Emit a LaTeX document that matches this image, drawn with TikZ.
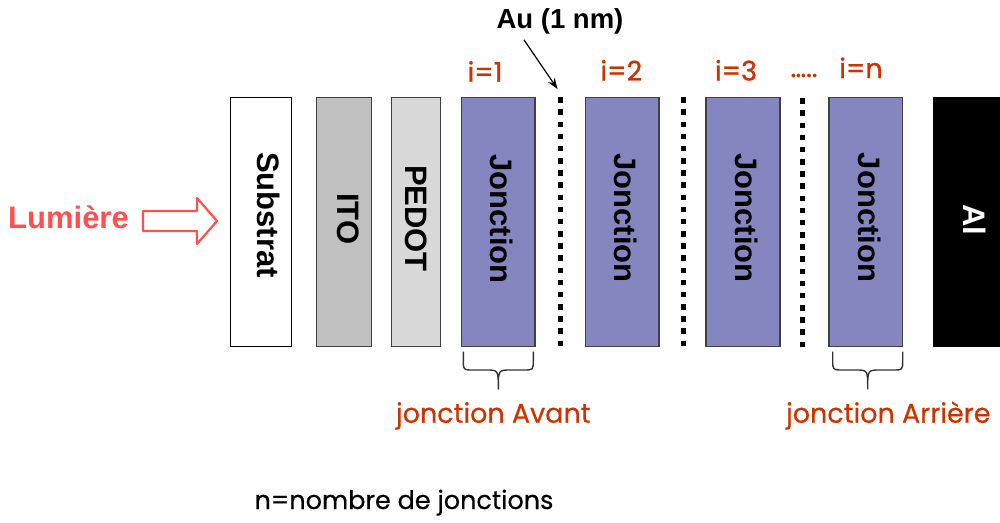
\documentclass[tikz,border=0pt]{standalone}
\usepackage{fontspec}
\setmainfont{Liberation Sans}
\newfontface\comic{Poppins}[FakeBold=0.5]
\newfontface\comicthick{Poppins}[FakeBold=0.9]
\usetikzlibrary{arrows.meta}
\definecolor{layerline}{RGB}{64,64,64}
\definecolor{itogray}{RGB}{192,192,192}
\definecolor{pedotgray}{RGB}{216,216,216}
\definecolor{jonc}{RGB}{133,133,192}
\definecolor{lumred}{RGB}{255,80,80}
\definecolor{labred}{RGB}{204,51,0}
\begin{document}
\begin{tikzpicture}[x=1pt,y=-1pt,
 layer/.style={draw=layerline, line width=1.5pt, inner sep=0pt, minimum height=249.4pt},
 boxtext/.style={rotate=-90, font=\fontsize{31}{31}\selectfont\bfseries, inner sep=0pt},
 ilabel/.style={text=labred, font=\comicthick\fontsize{27}{27}\selectfont, anchor=base, inner sep=0pt},
 jlabel/.style={text=labred, font=\comic\fontsize{27}{27}\selectfont, anchor=base, inner sep=0pt},
 audots/.style={line width=5.5pt, dash pattern=on 5.5pt off 6.67pt},
 bracestyle/.style={draw=black!80, line width=1.4pt, line join=round},
]
\useasboundingbox (0,0) rectangle (1000,522);

% layers
\node[layer, fill=white, draw=black, minimum width=61pt] (sub) at (261.2,222) {};
\node[layer, fill=itogray, minimum width=55pt] (ito) at (344.2,222) {};
\node[layer, fill=pedotgray, minimum width=49pt] (ped) at (416.2,222) {};
\node[layer, fill=jonc, minimum width=73.3pt] (j1) at (498.3,222) {};
\node[layer, fill=jonc, minimum width=73.3pt] (j2) at (622.3,222) {};
\node[layer, fill=jonc, minimum width=74pt] (j3) at (743,222) {};
\node[layer, fill=jonc, minimum width=73.7pt] (jn) at (865.8,222) {};
\node[layer, fill=black, draw=black, minimum width=70pt] (al) at (968.3,222) {};

% layer texts
\node[boxtext] (tsub) at (269,215) {Substrat};
\node[boxtext] (tito) at (348,218.7) {ITO};
\node[boxtext] (tped) at (416.2,218.5) {PEDOT};
\node[boxtext] (tj1) at (501.5,219) {Jonction};
\node[boxtext] (tj2) at (626,218) {Jonction};
\node[boxtext] (tj3) at (747,218) {Jonction};
\node[boxtext] (tjn) at (870,217.5) {Jonction};
\node[boxtext, text=white] (tal) at (975,220) {Al};

% gold layers (dotted)
\draw[audots] (560.7,97.25) -- (560.7,346.5);
\draw[audots] (683.3,97.25) -- (683.3,346.5);
\draw[audots] (802.7,98.25) -- (802.7,346.5);

% light arrow
\node[anchor=base west, text=lumred, font=\fontsize{31}{31}\selectfont\bfseries, inner sep=0pt] (lum) at (8,228.3) {Lumière};
\draw[draw=lumred, fill=white, line width=2.2pt, line join=round]
  (143,211) -- (197,211) -- (197,198) -- (217,221) -- (197,244) -- (197,231) -- (143,231) -- cycle;

% Au label
\node[font=\fontsize{27.5}{27.5}\selectfont\bfseries, anchor=base, inner sep=0pt] (au) at (560,28) {Au (1 nm)};
\coordinate (autip) at (557.5,89);
\draw[line width=1.2pt, -{Stealth[length=11pt,width=8pt]}] ([xshift=-36pt,yshift=-6pt]au.south) -- (autip);

% index labels
\node[ilabel] (i1) at (485,81.7) {i=1};
\node[ilabel] (i2) at (621.3,80.5) {i=2};
\node[ilabel] (i3) at (736,80.5) {i=3};
\node[ilabel] (idots) at (804,77) {…..};
\node[ilabel] (in) at (861,78) {i=n};

% braces
\draw[bracestyle] (463.3,351.7) -- (463.3,360) .. controls (463.3,370) .. (473,370) -- (486,370)
  .. controls (498.3,370) .. (498.3,389) .. controls (498.3,370) .. (510.6,370) -- (523.6,370)
  .. controls (533.3,370) .. (533.3,360) -- (533.3,351.7);
\draw[bracestyle] (832.7,351.7) -- (832.7,360) .. controls (832.7,370) .. (842.4,370) -- (855.4,370)
  .. controls (867.7,370) .. (867.7,389) .. controls (867.7,370) .. (880,370) -- (893,370)
  .. controls (902.7,370) .. (902.7,360) -- (902.7,351.7);

\node[jlabel] (avant) at (493.3,422.7) {jonction Avant};
\node[jlabel] (arriere) at (888.3,422.7) {jonction Arrière};
\node[jlabel, text=black, font=\comic\fontsize{25.5}{25.5}\selectfont] (nlabel) at (404,509) {n=nombre de jonctions};
\end{tikzpicture}
\end{document}
